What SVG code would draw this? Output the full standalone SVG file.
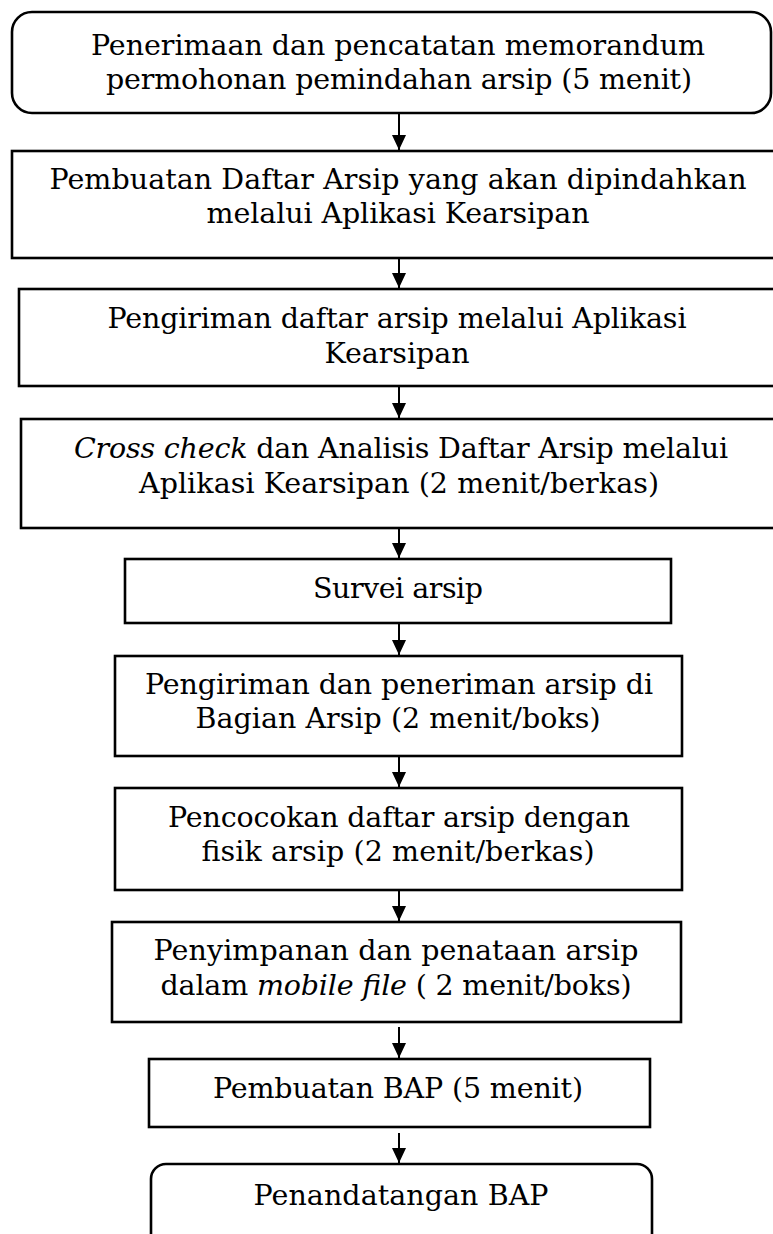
<svg xmlns="http://www.w3.org/2000/svg" width="773" height="1234" viewBox="0 0 773 1234">
<style>
.box{fill:#fff;stroke:#000;stroke-width:2.6}
.t{font-family:"DejaVu Serif","Liberation Serif",serif;font-size:28.5px;fill:#000;text-anchor:middle}
.i{font-style:italic}
.c{stroke:#000;stroke-width:2;fill:none}
</style>
<defs>
<marker id="ah" markerUnits="userSpaceOnUse" markerWidth="16" markerHeight="16" refX="15" refY="7" orient="auto">
<path d="M0,0 L15,7 L0,14 z" fill="#000"/>
</marker>
</defs>
<rect width="773" height="1234" fill="#fff"/>
<g id="connectors">
<path class="c" d="M399,113 V150" marker-end="url(#ah)"/>
<path class="c" d="M399,258 V288" marker-end="url(#ah)"/>
<path class="c" d="M399,386 V418" marker-end="url(#ah)"/>
<path class="c" d="M399,528 V558" marker-end="url(#ah)"/>
<path class="c" d="M399,623 V655" marker-end="url(#ah)"/>
<path class="c" d="M399,756 V787" marker-end="url(#ah)"/>
<path class="c" d="M399,890 V921" marker-end="url(#ah)"/>
<path class="c" d="M399,1027 V1058" marker-end="url(#ah)"/>
<path class="c" d="M399,1133 V1163" marker-end="url(#ah)"/>
</g>
<g id="n1">
<rect class="box" x="12" y="12" width="759" height="101" rx="20"/>
<text class="t" x="398" y="55" textLength="614">Penerimaan dan pencatatan memorandum</text>
<text class="t" x="399" y="89" textLength="586">permohonan pemindahan arsip (5 menit)</text>
</g>
<g id="n2">
<rect class="box" x="12" y="151" width="775" height="107"/>
<text class="t" x="398" y="189" textLength="697">Pembuatan Daftar Arsip yang akan dipindahkan</text>
<text class="t" x="398" y="223" textLength="383">melalui Aplikasi Kearsipan</text>
</g>
<g id="n3">
<rect class="box" x="19" y="289" width="775" height="97"/>
<text class="t" x="397" y="328" textLength="579">Pengiriman daftar arsip melalui Aplikasi</text>
<text class="t" x="397" y="363" textLength="145">Kearsipan</text>
</g>
<g id="n4">
<rect class="box" x="21" y="419" width="775" height="109"/>
<text class="t" x="401" y="458" textLength="654"><tspan class="i">Cross check</tspan> dan Analisis Daftar Arsip melalui</text>
<text class="t" x="399" y="493" textLength="520">Aplikasi Kearsipan (2 menit/berkas)</text>
</g>
<g id="n5">
<rect class="box" x="125" y="559" width="546" height="64"/>
<text class="t" x="398" y="598" textLength="170">Survei arsip</text>
</g>
<g id="n6">
<rect class="box" x="115" y="656" width="567" height="100"/>
<text class="t" x="399" y="694" textLength="508">Pengiriman dan peneriman arsip di</text>
<text class="t" x="398" y="728" textLength="405">Bagian Arsip (2 menit/boks)</text>
</g>
<g id="n7">
<rect class="box" x="115" y="788" width="567" height="102"/>
<text class="t" x="399" y="827" textLength="462">Pencocokan daftar arsip dengan</text>
<text class="t" x="398" y="861" textLength="393">fisik arsip (2 menit/berkas)</text>
</g>
<g id="n8">
<rect class="box" x="112" y="922" width="569" height="100"/>
<text class="t" x="396" y="960" textLength="485">Penyimpanan dan penataan arsip</text>
<text class="t" x="396" y="995" textLength="471">dalam <tspan class="i">mobile file</tspan> ( 2 menit/boks)</text>
</g>
<g id="n9">
<rect class="box" x="149" y="1059" width="501" height="68"/>
<text class="t" x="398" y="1098" textLength="370">Pembuatan BAP (5 menit)</text>
</g>
<g id="n10">
<rect class="box" x="151" y="1164" width="501" height="100" rx="15"/>
<text class="t" x="401" y="1205" textLength="295">Penandatangan BAP</text>
</g>
</svg>
